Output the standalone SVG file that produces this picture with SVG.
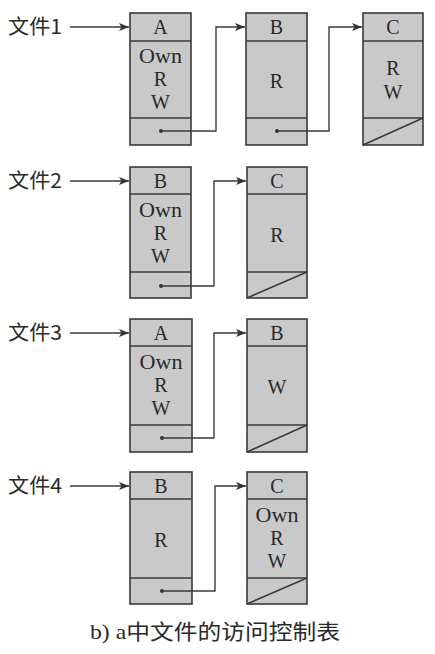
<svg xmlns="http://www.w3.org/2000/svg" width="435" height="654" viewBox="0 0 435 654">
<defs>
<marker id="ah" viewBox="0 0 10 8" refX="10" refY="4" markerWidth="10" markerHeight="8" markerUnits="userSpaceOnUse" orient="auto">
<path d="M0,0 L10,4 L0,8 L2.5,4 Z" fill="#333"/>
</marker>
</defs>
<style>
.box{fill:#c9c9c9;stroke:#3a3a3a;stroke-width:1.6}
.ln{stroke:#3a3a3a;stroke-width:1.6;fill:none}
.t{font-family:"Liberation Serif","Times New Roman",serif;font-size:20px;fill:#2a2a2a;text-anchor:middle}
.lab{font-family:"Noto Sans CJK SC","Liberation Sans",sans-serif;font-size:20px;fill:#2a2a2a}
.cap{font-family:"Liberation Serif","Noto Sans CJK SC",serif;font-size:21px;fill:#2a2a2a}
.c{stroke:#3a3a3a;stroke-width:1.4;fill:none}
.dot{fill:#333}
</style>
<rect width="435" height="654" fill="#fff"/>

<g id="file1-label"><text class="lab" x="8" y="34" textLength="54" lengthAdjust="spacingAndGlyphs">文件1</text></g>
<g id="file2-label"><text class="lab" x="8" y="188" textLength="54" lengthAdjust="spacingAndGlyphs">文件2</text></g>
<g id="file3-label"><text class="lab" x="8" y="340" textLength="54" lengthAdjust="spacingAndGlyphs">文件3</text></g>
<g id="file4-label"><text class="lab" x="8" y="493" textLength="54" lengthAdjust="spacingAndGlyphs">文件4</text></g>

<!-- Row 1 -->
<g id="r1-A">
<rect class="box" x="130" y="13" width="61" height="132"/>
<line class="ln" x1="130" y1="41" x2="191" y2="41"/>
<line class="ln" x1="130" y1="118" x2="191" y2="118"/>
<text class="t" x="160.5" y="34">A</text>
<text class="t" x="160.5" y="63" textLength="43" lengthAdjust="spacingAndGlyphs">Own</text>
<text class="t" x="160.5" y="86">R</text>
<text class="t" x="160.5" y="109">W</text>
<circle class="dot" cx="161" cy="131" r="2"/>
</g>
<g id="r1-B">
<rect class="box" x="246" y="13" width="61" height="132"/>
<line class="ln" x1="246" y1="41" x2="307" y2="41"/>
<line class="ln" x1="246" y1="118" x2="307" y2="118"/>
<text class="t" x="276.5" y="34">B</text>
<text class="t" x="276.5" y="88">R</text>
<circle class="dot" cx="277" cy="131" r="2"/>
</g>
<g id="r1-C">
<rect class="box" x="363" y="13" width="60" height="132"/>
<line class="ln" x1="363" y1="41" x2="423" y2="41"/>
<line class="ln" x1="363" y1="118" x2="423" y2="118"/>
<line class="ln" x1="363" y1="145" x2="423" y2="118"/>
<text class="t" x="393" y="34">C</text>
<text class="t" x="393" y="75">R</text>
<text class="t" x="393" y="99">W</text>
</g>

<!-- Row 2 -->
<g id="r2-B">
<rect class="box" x="130" y="167" width="61" height="131"/>
<line class="ln" x1="130" y1="194" x2="191" y2="194"/>
<line class="ln" x1="130" y1="272" x2="191" y2="272"/>
<text class="t" x="160.5" y="188">B</text>
<text class="t" x="160.5" y="217" textLength="43" lengthAdjust="spacingAndGlyphs">Own</text>
<text class="t" x="160.5" y="240">R</text>
<text class="t" x="160.5" y="263">W</text>
<circle class="dot" cx="161" cy="286" r="2"/>
</g>
<g id="r2-C">
<rect class="box" x="247" y="167" width="60" height="131"/>
<line class="ln" x1="247" y1="194" x2="307" y2="194"/>
<line class="ln" x1="247" y1="272" x2="307" y2="272"/>
<line class="ln" x1="247" y1="298" x2="307" y2="272"/>
<text class="t" x="277" y="188">C</text>
<text class="t" x="277" y="242">R</text>
</g>

<!-- Row 3 -->
<g id="r3-A">
<rect class="box" x="130" y="319" width="62" height="133"/>
<line class="ln" x1="130" y1="346" x2="192" y2="346"/>
<line class="ln" x1="130" y1="425" x2="192" y2="425"/>
<text class="t" x="161" y="340">A</text>
<text class="t" x="161" y="369" textLength="43" lengthAdjust="spacingAndGlyphs">Own</text>
<text class="t" x="161" y="392">R</text>
<text class="t" x="161" y="415">W</text>
<circle class="dot" cx="162" cy="438" r="2"/>
</g>
<g id="r3-B">
<rect class="box" x="247" y="319" width="60" height="133"/>
<line class="ln" x1="247" y1="346" x2="307" y2="346"/>
<line class="ln" x1="247" y1="425" x2="307" y2="425"/>
<line class="ln" x1="247" y1="452" x2="307" y2="425"/>
<text class="t" x="277" y="340">B</text>
<text class="t" x="277" y="394">W</text>
</g>

<!-- Row 4 -->
<g id="r4-B">
<rect class="box" x="130" y="472" width="62" height="132"/>
<line class="ln" x1="130" y1="499" x2="192" y2="499"/>
<line class="ln" x1="130" y1="578" x2="192" y2="578"/>
<text class="t" x="161" y="493">B</text>
<text class="t" x="161" y="547">R</text>
<circle class="dot" cx="162" cy="591" r="2"/>
</g>
<g id="r4-C">
<rect class="box" x="247" y="472" width="60" height="132"/>
<line class="ln" x1="247" y1="499" x2="307" y2="499"/>
<line class="ln" x1="247" y1="578" x2="307" y2="578"/>
<line class="ln" x1="247" y1="604" x2="307" y2="578"/>
<text class="t" x="277" y="493">C</text>
<text class="t" x="277" y="522" textLength="43" lengthAdjust="spacingAndGlyphs">Own</text>
<text class="t" x="277" y="545">R</text>
<text class="t" x="277" y="568">W</text>
</g>

<g id="connectors">
<line class="c" x1="70" y1="27" x2="129" y2="27" marker-end="url(#ah)"/>
<line class="c" x1="70" y1="181" x2="129" y2="181" marker-end="url(#ah)"/>
<line class="c" x1="70" y1="333" x2="129" y2="333" marker-end="url(#ah)"/>
<line class="c" x1="70" y1="486" x2="129" y2="486" marker-end="url(#ah)"/>
<polyline class="c" points="161,131 216,131 216,27 245,27" marker-end="url(#ah)"/>
<polyline class="c" points="277,131 329,131 329,27 362,27" marker-end="url(#ah)"/>
<polyline class="c" points="161,286 214,286 214,181 246,181" marker-end="url(#ah)"/>
<polyline class="c" points="162,438 214,438 214,333 246,333" marker-end="url(#ah)"/>
<polyline class="c" points="162,591 215,591 215,486 246,486" marker-end="url(#ah)"/>
</g>

<g id="caption"><text class="cap" x="90" y="639" textLength="250" lengthAdjust="spacingAndGlyphs">b) a中文件的访问控制表</text></g>
</svg>
